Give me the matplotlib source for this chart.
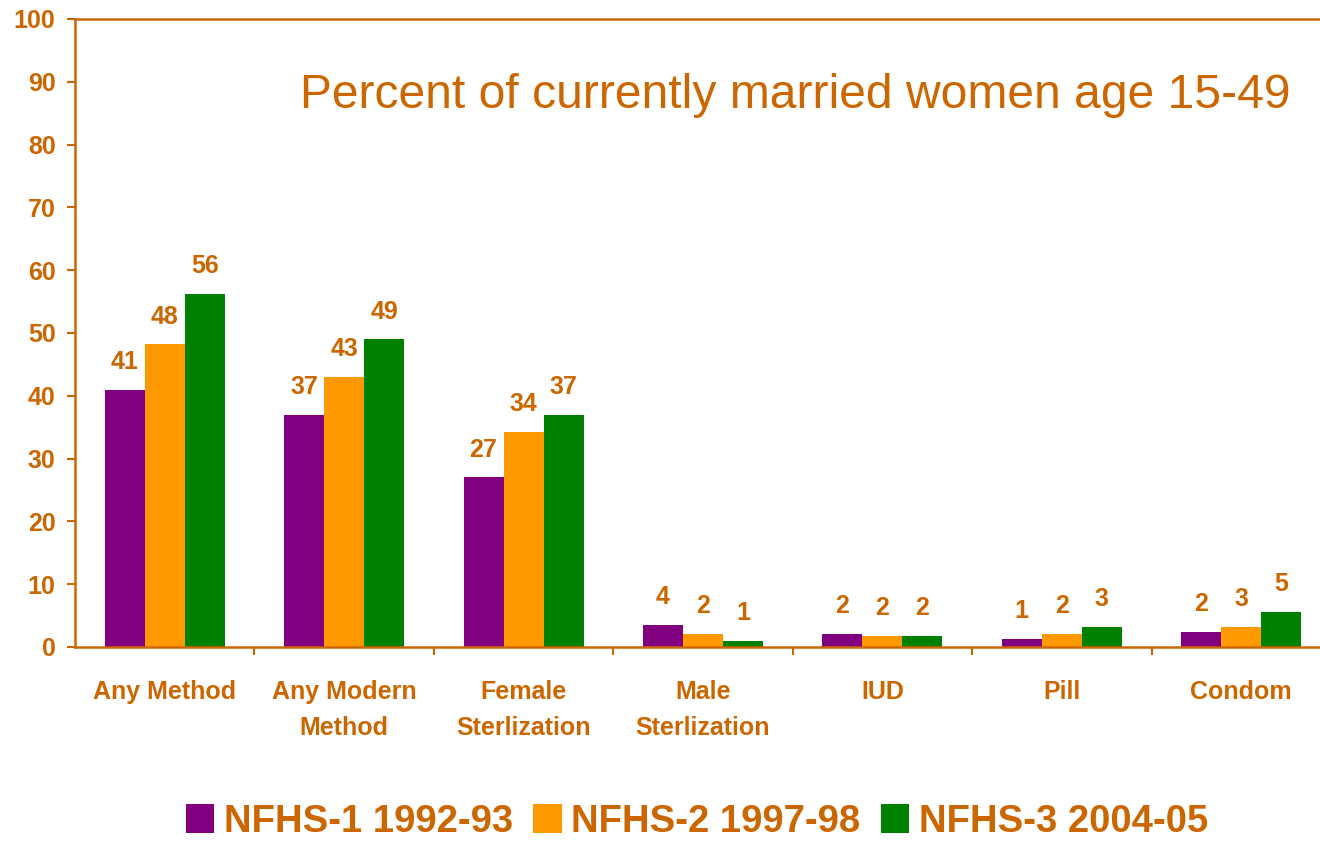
import matplotlib
matplotlib.use("Agg")
import matplotlib.pyplot as plt
import numpy as np
from matplotlib.patches import Patch

categories = ["Any Method", "Any Modern\nMethod", "Female\nSterlization",
              "Male\nSterlization", "IUD", "Pill", "Condom"]
series_names = ["NFHS-1 1992-93", "NFHS-2 1997-98", "NFHS-3 2004-05"]
nfhs1 = [41.0, 37.0, 27.0, 3.5, 2.1, 1.3, 2.4]
nfhs2 = [48.2, 43.0, 34.2, 2.1, 1.8, 2.1, 3.2]
nfhs3 = [56.2, 49.0, 37.0, 0.95, 1.8, 3.2, 5.6]
labels1 = [41, 37, 27, 4, 2, 1, 2]
labels2 = [48, 43, 34, 2, 2, 2, 3]
labels3 = [56, 49, 37, 1, 2, 3, 5]
yticks = [0, 10, 20, 30, 40, 50, 60, 70, 80, 90, 100]

colors = ["#800080", "#FF9900", "#008000"]
txt = "#CC6600"

plt.rcParams['font.family'] = ['Liberation Sans', 'DejaVu Sans']

fig = plt.figure(figsize=(13.2, 8.41), dpi=100)
ax = fig.add_axes([75/1320, 194/841, (1320-75)/1320, (647-19)/841])

x = np.arange(len(categories))
w = 0.223
for i, (vals, labs) in enumerate(zip([nfhs1, nfhs2, nfhs3], [labels1, labels2, labels3])):
    xs = x + (i - 1) * w
    ax.bar(xs, vals, width=w, color=colors[i], edgecolor='none', zorder=2)
    for xi, v, l in zip(xs, vals, labs):
        ax.annotate(str(l), (xi, v), xytext=(0, 20), textcoords='offset points',
                    ha='center', va='center', fontsize=18, fontweight='bold', color=txt)

ax.set_ylim(0, 100)
ax.set_xlim(-0.5, 6.5 - 11/179.5)
ax.set_yticks(yticks)
ax.set_yticklabels([str(t) for t in yticks], fontsize=18, fontweight='bold', color=txt)
ax.tick_params(axis='y', direction='out', length=6, width=1.5, color=txt, pad=8)

ax.set_xticks(x[:-1] + 0.5)
ax.set_xticklabels([])
ax.set_xticks(x, minor=True)
ax.set_xticklabels(categories, minor=True, fontsize=18, fontweight='bold', color=txt,
                   linespacing=1.64)
ax.tick_params(axis='x', which='major', direction='out', length=6, width=1.5, color=txt)
ax.tick_params(axis='x', which='minor', length=0, pad=24)
for lab in ax.get_xticklabels(minor=True):
    lab.set_verticalalignment('top')

for s in ['left', 'bottom', 'top']:
    ax.spines[s].set_color(txt)
    ax.spines[s].set_linewidth(1.8)
ax.spines['right'].set_visible(False)

fig.text(300/1320, 1 - 96/841, "Percent of currently married women age 15-49",
         fontsize=34.6, color=txt, ha='left', va='center')

handles = [Patch(facecolor=c, edgecolor='none') for c in colors]
fig.legend(handles, series_names, loc='center', bbox_to_anchor=(697/1320, 1 - 822/841),
           ncol=3, frameon=False, handlelength=0.74, handleheight=0.8, handletextpad=0.26,
           columnspacing=0.53, labelcolor=txt, borderpad=0, borderaxespad=0,
           prop=dict(weight='bold', size=27.5))

fig.savefig("out.png", dpi=100)
